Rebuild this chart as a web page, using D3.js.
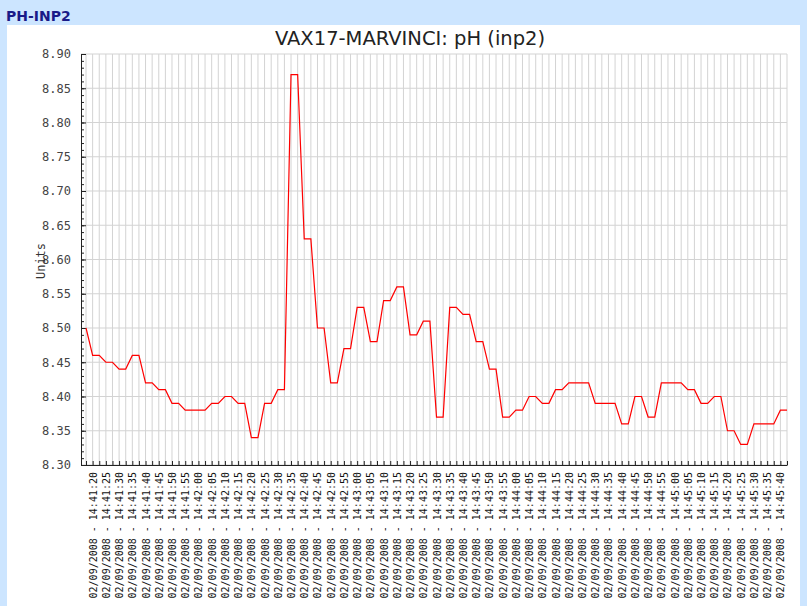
<!DOCTYPE html>
<html>
<head>
<meta charset="utf-8">
<script src="https://cdn.jsdelivr.net/npm/d3@7"></script>
<style>
  body { margin: 0; background: #cce5ff; }
  svg { display: block; }
</style>
</head>
<body>
<div id="vis"></div>
<script>
// Chart data

let panelTitle = "PH-INP2"
let chartTitle = "VAX17-MARVINCI: pH (inp2)"
let yTitle = "Units"

// one sample every 2.5 s starting at 14:41:17.5 (02/09/2008)
let sampleStart = "2008-09-02 14:41:17.500"
let sampleStepMs = 2500
let phValues = [
    8.50,
    8.46, 8.46, 8.45, 8.45, 8.44, 8.44, 8.46, 8.46, 8.42, 8.42,
    8.41, 8.41, 8.39, 8.39, 8.38, 8.38, 8.38, 8.38, 8.39, 8.39,
    8.40, 8.40, 8.39, 8.39, 8.34, 8.34, 8.39, 8.39, 8.41, 8.41,
    8.87, 8.87, 8.63, 8.63, 8.50, 8.50, 8.42, 8.42, 8.47, 8.47,
    8.53, 8.53, 8.48, 8.48, 8.54, 8.54, 8.56, 8.56, 8.49, 8.49,
    8.51, 8.51, 8.37, 8.37, 8.53, 8.53, 8.52, 8.52, 8.48, 8.48,
    8.44, 8.44, 8.37, 8.37, 8.38, 8.38, 8.40, 8.40, 8.39, 8.39,
    8.41, 8.41, 8.42, 8.42, 8.42, 8.42, 8.39, 8.39, 8.39, 8.39,
    8.36, 8.36, 8.40, 8.40, 8.37, 8.37, 8.42, 8.42, 8.42, 8.42,
    8.41, 8.41, 8.39, 8.39, 8.40, 8.40, 8.35, 8.35, 8.33, 8.33,
    8.36, 8.36, 8.36, 8.36, 8.38, 8.38
]

// axes
let xDomain = ["2008-09-02 14:41:15.600", "2008-09-02 14:45:42.500"]
let yDomain = [8.30, 8.90]
let yMajorTicks = [8.30, 8.35, 8.40, 8.45, 8.50, 8.55, 8.60, 8.65, 8.70, 8.75, 8.80, 8.85, 8.90]
let gridStepMs = 2500
let labelStepSec = 5

let width = 807, height = 606
let plot = {left: 81, right: 787, top: 54, bottom: 465}

let parseTime = d3.timeParse("%Y-%m-%d %H:%M:%S.%L")
let fmtLabel = d3.timeFormat("%d/%m/%Y - %H:%M:%S")

function draw(){
    let svg = d3.select("#vis")
                .append("svg")
                .attr("width", width)
                .attr("height", height)

    // page frame
    svg.append("rect")
        .attr("width", width).attr("height", height)
        .attr("fill", "#cce5ff")
    svg.append("rect")
        .attr("x", 7).attr("y", 25)
        .attr("width", 793).attr("height", height - 25)
        .attr("fill", "#ffffff")

    svg.append("text")
        .attr("x", 6).attr("y", 21)
        .attr("font-family", "DejaVu Sans")
        .attr("font-weight", "bold")
        .attr("font-size", 14)
        .attr("fill", "#1a1a88")
        .text(panelTitle)

    svg.append("text")
        .attr("x", 410).attr("y", 45)
        .attr("text-anchor", "middle")
        .attr("font-family", "DejaVu Sans")
        .attr("font-size", 19.5)
        .attr("fill", "#222")
        .text(chartTitle)

    let t0 = parseTime(sampleStart)
    let data = phValues.map((v, i) => ({t: new Date(t0.getTime() + i * sampleStepMs), v: v}))

    let x = d3.scaleTime()
        .domain(xDomain.map(parseTime))
        .range([plot.left, plot.right])
    let y = d3.scaleLinear()
        .domain(yDomain)
        .range([plot.bottom, plot.top])

    let gridTimes = d3.timeMillisecond.every(gridStepMs)
        .range(x.domain()[0], new Date(x.domain()[1].getTime() + 1))
    let yMinor = d3.range(0, 61).map(i => +(yDomain[0] + i * 0.01).toFixed(2))

    // grid
    let grid = svg.append("g")
    grid.selectAll(".vgrid")
        .data(gridTimes)
        .join("line")
        .attr("x1", d => x(d)).attr("x2", d => x(d))
        .attr("y1", plot.top).attr("y2", plot.bottom)
        .attr("stroke", "#d3d3d3")
    grid.selectAll(".hgrid")
        .data(yMajorTicks)
        .join("line")
        .attr("x1", plot.left).attr("x2", plot.right)
        .attr("y1", d => y(d)).attr("y2", d => y(d))
        .attr("stroke", "#d3d3d3")

    // y axis: minor ticks every 0.01 and labelled ticks every 0.05
    svg.append("g")
        .attr("transform", `translate(${plot.left},0)`)
        .call(d3.axisLeft(y).tickValues(yMinor).tickSize(-3).tickFormat(""))
        .call(g => g.select(".domain").remove())
        .selectAll("line").attr("stroke", "#222")

    let yAxis = svg.append("g")
        .attr("transform", `translate(${plot.left},0)`)
        .call(d3.axisLeft(y).tickValues(yMajorTicks).tickSize(-5).tickSizeOuter(0)
            .tickPadding(10).tickFormat(d3.format(".2f")))
    yAxis.select(".domain").attr("stroke", "#222")
    yAxis.selectAll("line").attr("stroke", "#222")
    yAxis.selectAll("text")
        .attr("font-family", "DejaVu Sans Mono")
        .attr("font-size", 12)
        .attr("fill", "#444")

    // x axis: tick at every sample, label every 5 s
    let xAxis = svg.append("g")
        .attr("transform", `translate(0,${plot.bottom})`)
        .call(d3.axisBottom(x).tickValues(gridTimes).tickSize(-4).tickSizeOuter(0)
            .tickFormat(d => (d.getMilliseconds() === 0 && d.getSeconds() % labelStepSec === 0) ? fmtLabel(d) : ""))
    xAxis.select(".domain").attr("stroke", "#222")
    xAxis.selectAll("line").attr("stroke", "#222")
    xAxis.selectAll("text")
        .attr("transform", "rotate(-90)")
        .attr("x", -7)
        .attr("y", 0)
        .attr("dy", "0.35em")
        .attr("text-anchor", "end")
        .attr("font-family", "DejaVu Sans Mono")
        .attr("font-size", 10)
        .attr("fill", "#111")

    svg.append("text")
        .attr("transform", "translate(41,261) rotate(-90)")
        .attr("text-anchor", "middle")
        .attr("dy", "0.35em")
        .attr("font-family", "DejaVu Sans Mono")
        .attr("font-size", 12)
        .attr("fill", "#333")
        .text(yTitle)

    // the pH series
    let line = d3.line()
        .x(d => x(d.t))
        .y(d => y(d.v))

    svg.append("path")
        .datum(data)
        .attr("d", line)
        .attr("fill", "none")
        .attr("stroke", "#ff0000")
        .attr("stroke-width", 1.2)
}

draw()
</script>
</body>
</html>
